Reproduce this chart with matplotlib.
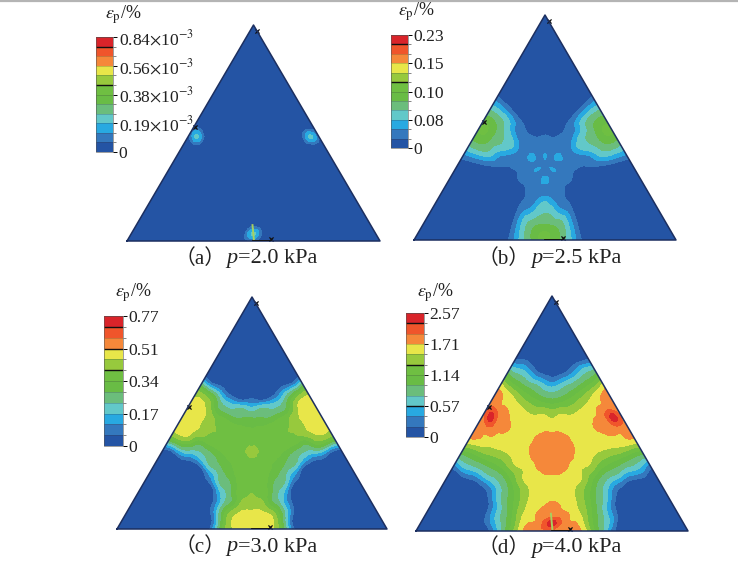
import numpy as np
import matplotlib
matplotlib.use("Agg")
import matplotlib.pyplot as plt
import matplotlib.tri as mtri
from matplotlib.colors import ListedColormap, BoundaryNorm
from matplotlib.cm import ScalarMappable
from matplotlib.lines import Line2D
from matplotlib.patches import Polygon

plt.rcParams['font.family'] = ['Liberation Serif', 'Noto Sans CJK SC']
plt.rcParams['mathtext.fontset'] = 'stix'

W, H = 738, 566
band_colors = ['#2454a4', '#3478bd', '#28a9e1', '#62c8c9', '#6bbd7c', '#69bc45',
               '#6fbf42', '#97c93d', '#e8e649', '#f5883a', '#f0552b', '#d9242a']

# readings of the contour band per panel: one list per angle (0..60 deg from edge
# midpoint towards corner), entries go out from the centre, radius in inradius units
radius = [0, .1, .2, .3, .4, .5, .6, .7, .8, .9, 1, 1.1, 1.2, 1.3, 2.1]
theta = [0, 10, 20, 30, 40, 50, 60]

field_a = [[.1, .1, .1, .1, .1, .1, .1, .1, 1.0, 3.2, 1.0, .1, .1, .1, .1],
           [.1, .1, .1, .1, .1, .1, .1, .1, 0, 0, .1, .1, .1, .1, .1],
           [.1, .1, .1, .1, .1, .1, .1, .1, .1, .1, .1, .1, .1, .1, .1],
           [.1, .1, .1, .1, .1, .1, .1, .1, .1, .1, .1, .1, .1, .1, .1],
           [.1, .1, .1, .1, .1, .1, .1, .1, .1, .1, .1, .1, .1, .1, .1],
           [.1, .1, .1, .1, .1, .1, .1, .1, .1, .1, .1, .1, .1, .1, .1],
           [.1, .1, .1, .1, .1, .1, .1, .1, .1, .1, .1, .1, .1, .1, .1]]
field_b = [[1.6, 1.6, 2.3, 1.5, 1.8, 3.1, 3.7, 4.4, 5.1, 6.1, 6.2, 6, 6, 6, 6],
           [1.6, 1.6, 2.2, 1.5, 1.6, 2.4, 3.2, 3.8, 4.7, 5.2, 5.1, 4.5, 4, 4, 4],
           [1.6, 1.6, 1.7, 1.5, 1.4, 1.5, 1.8, 2.8, 3.4, 3.3, 3.0, 2.5, 2, 2, 2],
           [1.6, 1.6, 1.7, 1.4, 1.3, 1.1, 1.2, 1.2, 1.0, .7, .4, .2, .2, .2, .2],
           [1.6, 1.7, 1.6, 1.3, 1.0, .4, .2, .2, .2, .2, .2, .2, .2, .2, .2],
           [1.6, 1.9, 1.4, 1.2, .9, .2, .2, .2, .2, .2, .2, .2, .2, .2, .2],
           [1.6, 2.2, 1.5, 1.3, 1.0, .3, .2, .2, .2, .2, .2, .2, .2, .2, .2]]
field_c = [[7.4, 6.9, 6.6, 6.5, 6.5, 6.85, 7.15, 7.6, 8.4, 8.9, 8.6, 8.6, 8.6, 8.6, 8.6],
           [7.4, 6.9, 6.6, 6.5, 6.5, 6.5, 6.85, 7.5, 8.1, 8.6, 8.3, 8.1, 8, 8, 8],
           [7.4, 6.9, 6.6, 6.5, 6.5, 6.2, 5.8, 5.4, 6.6, 7.2, 6.8, 6.3, 6, 6, 6],
           [7.4, 6.9, 6.6, 6.5, 6.0, 5.2, 4.4, 3.8, 3.5, 3.1, 1.4, .4, .2, .2, .2],
           [7.4, 6.9, 6.6, 6.2, 5.6, 4.7, 3.9, 2.0, .7, .3, .2, .2, .2, .2, .2],
           [7.4, 6.8, 6.6, 6.1, 5.5, 4.5, 3.2, .5, .2, .2, .2, .2, .2, .2, .2],
           [7.4, 6.8, 6.5, 6.0, 5.4, 4.2, 2.5, .8, .3, .2, .2, .2, .2, .2, .2]]
field_d = [[9.7, 9.5, 9.3, 8.92, 8.6, 8.5, 8.8, 9.3, 9.5, 11.4, 9.6, 9.6, 9.6, 9.6, 9.6],
           [9.7, 9.5, 9.3, 8.95, 8.6, 8.5, 8.6, 8.95, 9.3, 9.5, 9.6, 9.6, 9.5, 9.5, 9.5],
           [9.7, 9.5, 9.3, 8.95, 8.6, 8.5, 8.4, 8.4, 8.5, 8.7, 9.0, 9.1, 9.1, 9.1, 9.1],
           [9.7, 9.5, 9.3, 8.92, 8.6, 8.3, 7.9, 7.6, 7.3, 6.9, 6.2, 5.6, 5, 4, 4],
           [9.7, 9.5, 9.3, 8.9, 8.5, 8.1, 7.2, 6.4, 5.6, 4.8, 4, 3.3, 2, .6, .2],
           [9.7, 9.5, 9.25, 8.85, 8.4, 7.9, 6.7, 5.3, 4.3, 3.3, 1.6, .6, .2, .1, .1],
           [9.7, 9.5, 9.2, 8.8, 8.2, 7.5, 6.3, 4.8, 3.6, 1.9, .7, .3, .1, .1, .1]]

labels_a = ['0', r'0.19$\times$10$^{-3}$', r'0.38$\times$10$^{-3}$', r'0.56$\times$10$^{-3}$', r'0.84$\times$10$^{-3}$']
labels_b = ['0', '0.08', '0.10', '0.15', '0.23']
labels_c = ['0', '0.17', '0.34', '0.51', '0.77']
labels_d = ['0', '0.57', '1.14', '1.71', '2.57']
pressures = ['=2.0 kPa', '=2.5 kPa', '=3.0 kPa', '=4.0 kPa']
tags = ['a', 'b', 'c', 'd']

# small black boundary marks, same spots on every triangle
mark_x = [.014, -.232, .068]
mark_y = [.555, .167, -.280]
# thin light streak rising from the bottom edge
streak_x = [.002, -.004]
streak_y = [-.289, -.225]


def pixel_axes(fig, left, top, right, bottom):
    return fig.add_axes([left / W, 1 - bottom / H, (right - left) / W, (bottom - top) / H])


def draw_triangle(fig, box, field, streak=False):
    ax = pixel_axes(fig, *box)
    inr = 1 / (2 * np.sqrt(3))
    tab = np.array(field, float)
    xs, ys, zs = [0.], [0.], [tab[0, 0]]
    angs = np.arange(0, 360, 10)
    for i in range(1, len(radius)):
        for a in angs:
            fold = abs((a + 60) % 120 - 60)
            r = radius[i] * inr
            xs.append(r * np.sin(np.deg2rad(a)))
            ys.append(-r * np.cos(np.deg2rad(a)))
            zs.append(tab[theta.index(fold), i])
    n = len(angs)
    tris = []
    for j in range(n):
        tris.append([0, 1 + j, 1 + (j + 1) % n])
    for i in range(len(radius) - 2):
        for j in range(n):
            p = 1 + i * n + j
            q = 1 + i * n + (j + 1) % n
            tris.append([p, q, p + n])
            tris.append([q, q + n, p + n])
    tr = mtri.Triangulation(xs, ys, tris)
    ref = mtri.UniformTriRefiner(tr)
    tr2, z2 = ref.refine_field(np.array(zs), subdiv=3)
    z2 = np.clip(z2, 0.01, 11.99)
    cs = ax.tricontourf(tr2, z2, levels=np.arange(13), colors=band_colors)
    cs.set_clip_path(Polygon([[-.5, -inr], [.5, -inr], [0, 2 * inr]], transform=ax.transData))
    if streak:
        ax.plot(streak_x, streak_y, color='#a6d060', lw=1.4)
    ax.plot([-.5, .5, 0, -.5], [-inr, -inr, 2 * inr, -inr], color='#1c2f60', lw=1.1, clip_on=False)
    ax.plot([.0, .068], [-inr, -inr], color='#111111', lw=1.3)
    ax.scatter(mark_x, mark_y, marker='x', s=9, color='#111111', linewidths=.9, clip_on=False)
    ax.set_xlim(-.5, .5)
    ax.set_ylim(-inr, 2 * inr)
    ax.axis('off')
    return ax


def draw_bar(fig, box, labels, black):
    cax = pixel_axes(fig, *box)
    lev = np.arange(13)
    sm = ScalarMappable(norm=BoundaryNorm(lev, 12), cmap=ListedColormap(band_colors))
    cb = fig.colorbar(sm, cax=cax, ticks=[0, 3, 6, 9, 12], spacing='uniform')
    cb.ax.set_yticklabels(labels)
    cb.ax.tick_params(which='major', length=3, width=.7, pad=1, labelsize=12.6, labelcolor='#222222')
    cb.ax.set_yticks(lev, minor=True)
    cb.ax.tick_params(which='minor', length=2, width=.5, color='#555555')
    cb.outline.set_linewidth(.4)
    cb.outline.set_edgecolor('#555555')
    cb.ax.hlines(lev, 0, 1, color='#33333355', lw=.5)
    cb.ax.hlines(black, 0, 1, color='#111111', lw=1)


def caption(fig, x_tag, x_p, y, tag, pressure):
    fig.text(x_tag / W, 1 - y / H, '（' + tag + '）', fontsize=15, va='center', color='#222222')
    fig.text(x_p / W, 1 - y / H, 'p', fontsize=16, style='italic', va='center', color='#222222')
    fig.text((x_p + 11.5) / W, 1 - y / H, pressure, fontsize=16, va='center', color='#222222')


fig = plt.figure(figsize=(W / 100, H / 100), dpi=100)
fig.add_artist(Line2D([0, 1], [.9985, .9985], color='#b4b4b4', lw=1.6))

draw_triangle(fig, (127, 25, 380, 241), field_a, streak=True)
draw_triangle(fig, (414, 15, 676, 240), field_b)
draw_triangle(fig, (117, 297, 387, 529), field_c)
draw_triangle(fig, (416, 296, 688, 531), field_d, streak=True)

draw_bar(fig, (96, 37, 113, 152), labels_a, [7, 11])
draw_bar(fig, (391, 35, 408, 148), labels_b, [7, 11])
draw_bar(fig, (104, 316, 123, 446), labels_c, [7, 9, 11])
draw_bar(fig, (406, 313, 424, 437), labels_d, [3, 7, 11])

eps = r'$\varepsilon_{\mathrm{p}}$/%'
fig.text(105 / W, 1 - 15 / H, eps, fontsize=13, va='center', color='#222222')
fig.text(398 / W, 1 - 12 / H, eps, fontsize=13, va='center', color='#222222')
fig.text(115 / W, 1 - 293 / H, eps, fontsize=13, va='center', color='#222222')
fig.text(417 / W, 1 - 293 / H, eps, fontsize=13, va='center', color='#222222')

caption(fig, 175, 226, 259, tags[0], pressures[0])
caption(fig, 478, 531, 259, tags[1], pressures[1])
caption(fig, 175, 226, 547, tags[2], pressures[2])
caption(fig, 478, 531, 548, tags[3], pressures[3])

fig.savefig('out.png', dpi=100)
